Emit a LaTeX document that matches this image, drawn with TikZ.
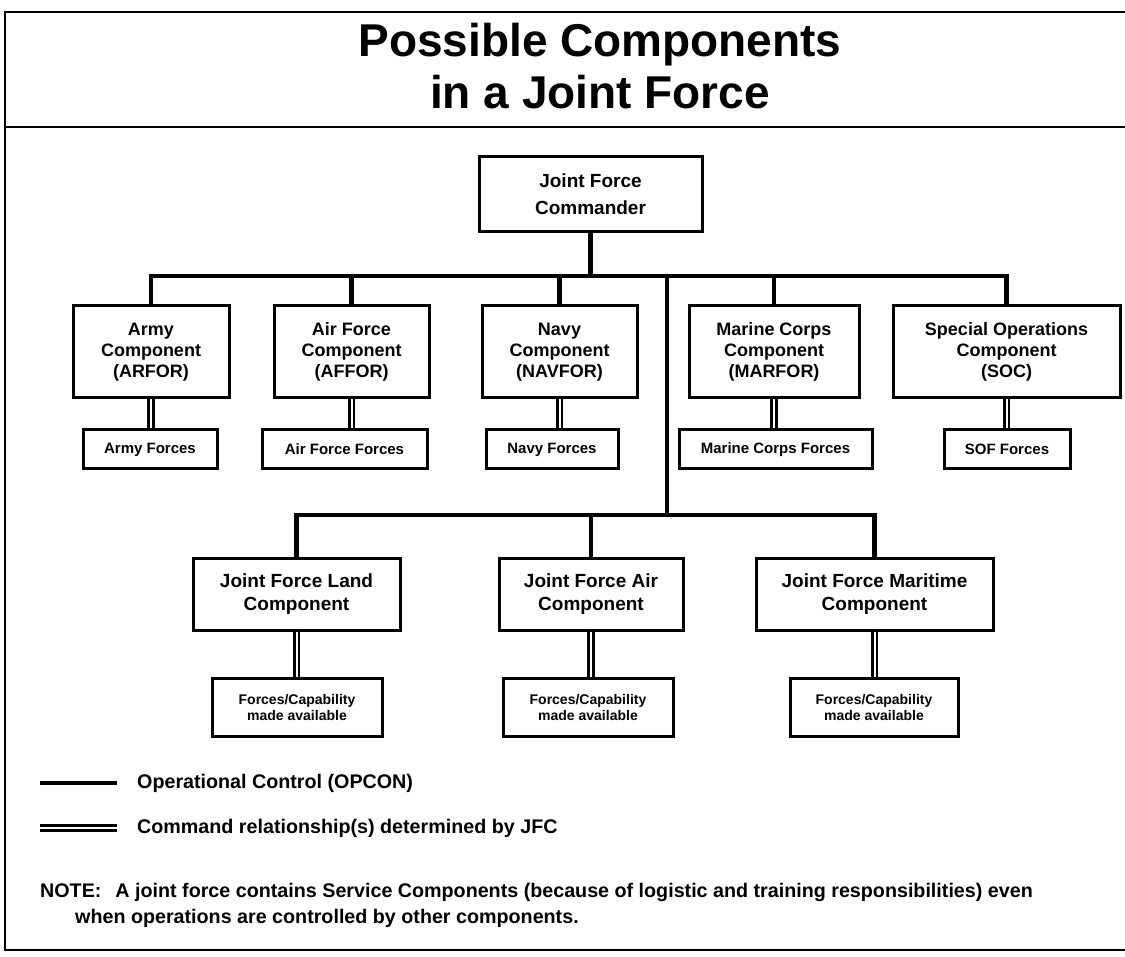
\documentclass[tikz,border=0pt]{standalone}
\usepackage{fontspec}
\setmainfont{Liberation Sans}

\begin{document}
\begin{tikzpicture}[x=1pt,y=-1pt,frm/.style={line width=2.5pt},box/.style n args={2}{draw,line width=3pt,minimum width=#1,minimum height=#2,inner sep=0pt,align=center},compfont/.style={font=\bfseries\fontsize{18}{21}\selectfont},forcefont/.style={font=\bfseries\fontsize{15}{17}\selectfont},titlefont/.style={anchor=base,font=\bfseries\fontsize{46}{52}\selectfont},opcon/.style={line width=4.5pt},cmdrel/.style={double,line width=2.6pt,double distance=2pt},legtext/.style={anchor=west,inner sep=0pt,font=\bfseries\fontsize{19.7}{26}\selectfont}]
\useasboundingbox (0,0) rectangle (1125,957);
\draw[frm] (1125,12) -| (5,950) -- (1125,950);
\draw[frm] (5,127) -- (1125,127);
\node[titlefont] (title1) at (600,57) {Possible Components};
\node[titlefont] (title2) at (600,109) {in a Joint Force};
% commander
\node[box={223pt}{75pt},font=\bfseries\fontsize{19}{27}\selectfont] (jfc) at (590.5,194.5) {Joint Force\\Commander};
% service components
\node[box={156pt}{92pt},compfont] (army) at (151,352) {Army\\Component\\(ARFOR)};
\node[box={155pt}{92pt},compfont] (airforce) at (351.5,352) {Air Force\\Component\\(AFFOR)};
\node[box={155pt}{92pt},compfont] (navy) at (559.5,352) {Navy\\Component\\(NAVFOR)};
\node[box={170pt}{92pt},compfont] (marine) at (774,352) {Marine Corps\\Component\\(MARFOR)};
\node[box={227pt}{92pt},compfont] (soc) at (1006.5,352) {Special Operations\\Component\\(SOC)};
\node[box={134pt}{39pt},forcefont] (armyf) at (150,449.5) {Army Forces};
\node[box={165pt}{39pt},forcefont] (airforcef) at (344.5,449.5) {Air Force Forces};
\node[box={132pt}{39pt},forcefont] (navyf) at (552,449.5) {Navy Forces};
\node[box={193pt}{39pt},forcefont] (marinef) at (775.5,449.5) {Marine Corps Forces};
\node[box={126pt}{39pt},forcefont] (socf) at (1007,449.5) {SOF Forces};
% functional components
\node[box={207pt}{72pt},font=\bfseries\fontsize{19}{23}\selectfont] (land) at (296.5,594) {Joint Force Land\\Component};
\node[box={184pt}{72pt},font=\bfseries\fontsize{19}{23}\selectfont] (air) at (591,594) {Joint Force Air\\Component};
\node[box={237pt}{72pt},font=\bfseries\fontsize{19}{23}\selectfont] (maritime) at (874.5,594) {Joint Force Maritime\\Component};
\node[box={170pt}{58pt},font=\bfseries\fontsize{14}{16}\selectfont] (landf) at (297,707) {Forces/Capability\\made available};
\node[box={170pt}{58pt},font=\bfseries\fontsize{14}{16}\selectfont] (airf) at (588,707) {Forces/Capability\\made available};
\node[box={168pt}{58pt},font=\bfseries\fontsize{14}{16}\selectfont] (maritimef) at (874,707) {Forces/Capability\\made available};
% OPCON lines
\coordinate (bar1) at (667,276);
\coordinate (bar2) at (667,515);
\draw[opcon] (jfc.south) -- (jfc.south |- bar1);
\draw[opcon] (army.north) |- (soc.north |- bar1) -- (soc.north);
\foreach \n in {airforce,navy,marine} {
  \draw[opcon] (\n.north) -- (\n.north |- bar1);
}
\draw[opcon] (bar1) -- (bar2);
\draw[opcon] (land.north) |- (maritime.north |- bar2) -- (maritime.north);
\draw[opcon] (air.north) -- (air.north |- bar2);
% command relationships
\foreach \n in {army,airforce,navy,marine,soc,land,air,maritime} {
  \draw[cmdrel] (\n.south) -- (\n.south |- \n f.north);
}
% legend
\node[legtext] (lopcon) at (137,783) {Operational Control (OPCON)};
\node[legtext] (lcmd) at (137,828) {Command relationship(s) determined by JFC};
\coordinate (lo1) at (40,783);
\coordinate (lo2) at (117,783);
\coordinate (lc1) at (40,828);
\coordinate (lc2) at (117,828);
\draw[opcon] (lo1) -- (lo2);
\draw[cmdrel] (lc1) -- (lc2);
\node[legtext] (note1) at (40,892) {NOTE:\hspace{14pt}A joint force contains Service Components (because of logistic and training responsibilities) even};
\node[legtext] (note2) at (75,918) {when operations are controlled by other components.};
\end{tikzpicture}
\end{document}
